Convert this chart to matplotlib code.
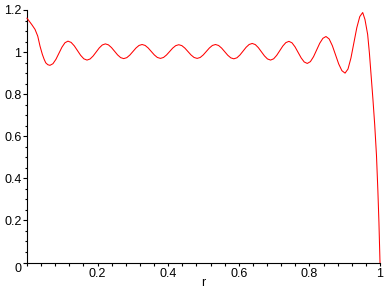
import matplotlib
matplotlib.use('Agg')
import matplotlib.pyplot as plt
from matplotlib.ticker import FixedLocator, MultipleLocator

plt.rcParams['font.family'] = ['Liberation Sans', 'DejaVu Sans']

# curve (r, value)
r_vals = [
    0.000, 0.0134, 0.0227, 0.0304, 0.0369, 0.0435, 0.0485, 0.0531, 0.059, 0.065,
    0.0735, 0.082, 0.0905, 0.099, 0.1075, 0.116,
    0.125, 0.134, 0.143, 0.152, 0.161, 0.170,
    0.1787, 0.1873, 0.196, 0.2047, 0.2133, 0.222,
    0.2307, 0.2393, 0.248, 0.2567, 0.2653, 0.274,
    0.2827, 0.2913, 0.300, 0.3087, 0.3173, 0.326,
    0.3347, 0.3433, 0.352, 0.3607, 0.3693, 0.378,
    0.3867, 0.3953, 0.404, 0.4127, 0.4213, 0.430,
    0.4387, 0.4473, 0.456, 0.4647, 0.4733, 0.482,
    0.4907, 0.4993, 0.508, 0.5167, 0.5253, 0.534,
    0.5427, 0.5513, 0.560, 0.5687, 0.5773, 0.586,
    0.5947, 0.6033, 0.612, 0.6207, 0.6293, 0.638,
    0.6467, 0.6553, 0.664, 0.6727, 0.6813, 0.690,
    0.6987, 0.7073, 0.716, 0.7247, 0.7333, 0.742,
    0.7507, 0.7593, 0.768, 0.7767, 0.7853, 0.794,
    0.8028, 0.8117, 0.8205, 0.8293, 0.8382, 0.847,
    0.856, 0.865, 0.874, 0.883, 0.892, 0.901,
    0.9093, 0.9177, 0.926, 0.9343, 0.9427, 0.951,
    0.9574, 0.965, 0.970, 0.975, 0.980, 0.985, 0.990, 0.994, 0.997, 1.000,
]
f_vals = [
    1.161, 1.131, 1.108, 1.076, 1.028, 0.989, 0.966, 0.949, 0.940, 0.937,
    0.9447, 0.9657, 0.9945, 1.0233, 1.0443, 1.052,
    1.046, 1.0295, 1.007, 0.9845, 0.968, 0.962,
    0.9672, 0.9813, 1.0005, 1.0198, 1.0338, 1.039,
    1.0343, 1.0215, 1.004, 0.9865, 0.9737, 0.969,
    0.9735, 0.9858, 1.0025, 1.0193, 1.0315, 1.036,
    1.0316, 1.0195, 1.003, 0.9865, 0.9744, 0.970,
    0.9744, 0.9863, 1.0025, 1.0188, 1.0306, 1.035,
    1.0306, 1.0188, 1.0025, 0.9863, 0.9744, 0.970,
    0.9744, 0.9865, 1.003, 1.0195, 1.0316, 1.036,
    1.0314, 1.019, 1.002, 0.985, 0.9726, 0.968,
    0.9729, 0.9863, 1.0045, 1.0228, 1.0361, 1.041,
    1.0357, 1.0213, 1.0015, 0.9818, 0.9673, 0.962,
    0.968, 0.9843, 1.0065, 1.0288, 1.045, 1.051,
    1.044, 1.0248, 0.9985, 0.9723, 0.953, 0.946,
    0.9546, 0.978, 1.010, 1.042, 1.0654, 1.074,
    1.0623, 1.0305, 0.987, 0.9435, 0.9117, 0.900,
    0.9193, 0.972, 1.044, 1.116, 1.1687, 1.188,
    1.155, 1.084, 0.995, 0.885, 0.775, 0.655, 0.510, 0.340, 0.190, 0.000,
]

x_ticks = [0.2, 0.4, 0.6, 0.8, 1.0]
x_labels = ['0.2', '0.4', '0.6', '0.8', '1']
y_ticks = [0.0, 0.2, 0.4, 0.6, 0.8, 1.0, 1.2]
y_labels = ['0', '0.2', '0.4', '0.6', '0.8', '1', '1.2']

fig = plt.figure(figsize=(3.88, 2.88), dpi=100)
fig.patch.set_facecolor('white')
ax = fig.add_axes([27 / 388, 1 - 262.5 / 288, 353 / 388, 252.5 / 288])

ax.plot(r_vals, f_vals, color='#FF0000', lw=0.75, clip_on=False, zorder=3)

ax.set_xlim(0, 1)
ax.set_ylim(0, 1.2)
for side in ('top', 'right'):
    ax.spines[side].set_visible(False)
for side in ('left', 'bottom'):
    ax.spines[side].set_linewidth(0.8)
    ax.spines[side].set_color('black')

ax.xaxis.set_major_locator(FixedLocator(x_ticks))
ax.set_xticklabels(x_labels)
ax.yaxis.set_major_locator(FixedLocator(y_ticks))
ax.set_yticklabels(y_labels)
ax.xaxis.set_minor_locator(MultipleLocator(0.04))
ax.yaxis.set_minor_locator(MultipleLocator(0.05))

ax.tick_params(axis='x', which='major', direction='out', length=2.5, width=0.8,
               pad=1.5, labelsize=9)
ax.tick_params(axis='x', which='minor', direction='out', length=1.8, width=0.8)
ax.tick_params(axis='y', which='major', direction='out', length=3.0, width=0.8,
               pad=1.0, labelsize=9)
ax.tick_params(axis='y', which='minor', direction='out', length=1.8, width=0.8)

# the "0" at the origin sits below its tick in the reference
ax.get_yticklabels()[0].set_verticalalignment('top')

ax.set_xlabel('r', fontsize=9, labelpad=-2)

fig.savefig('out.png', dpi=100, facecolor='white')
